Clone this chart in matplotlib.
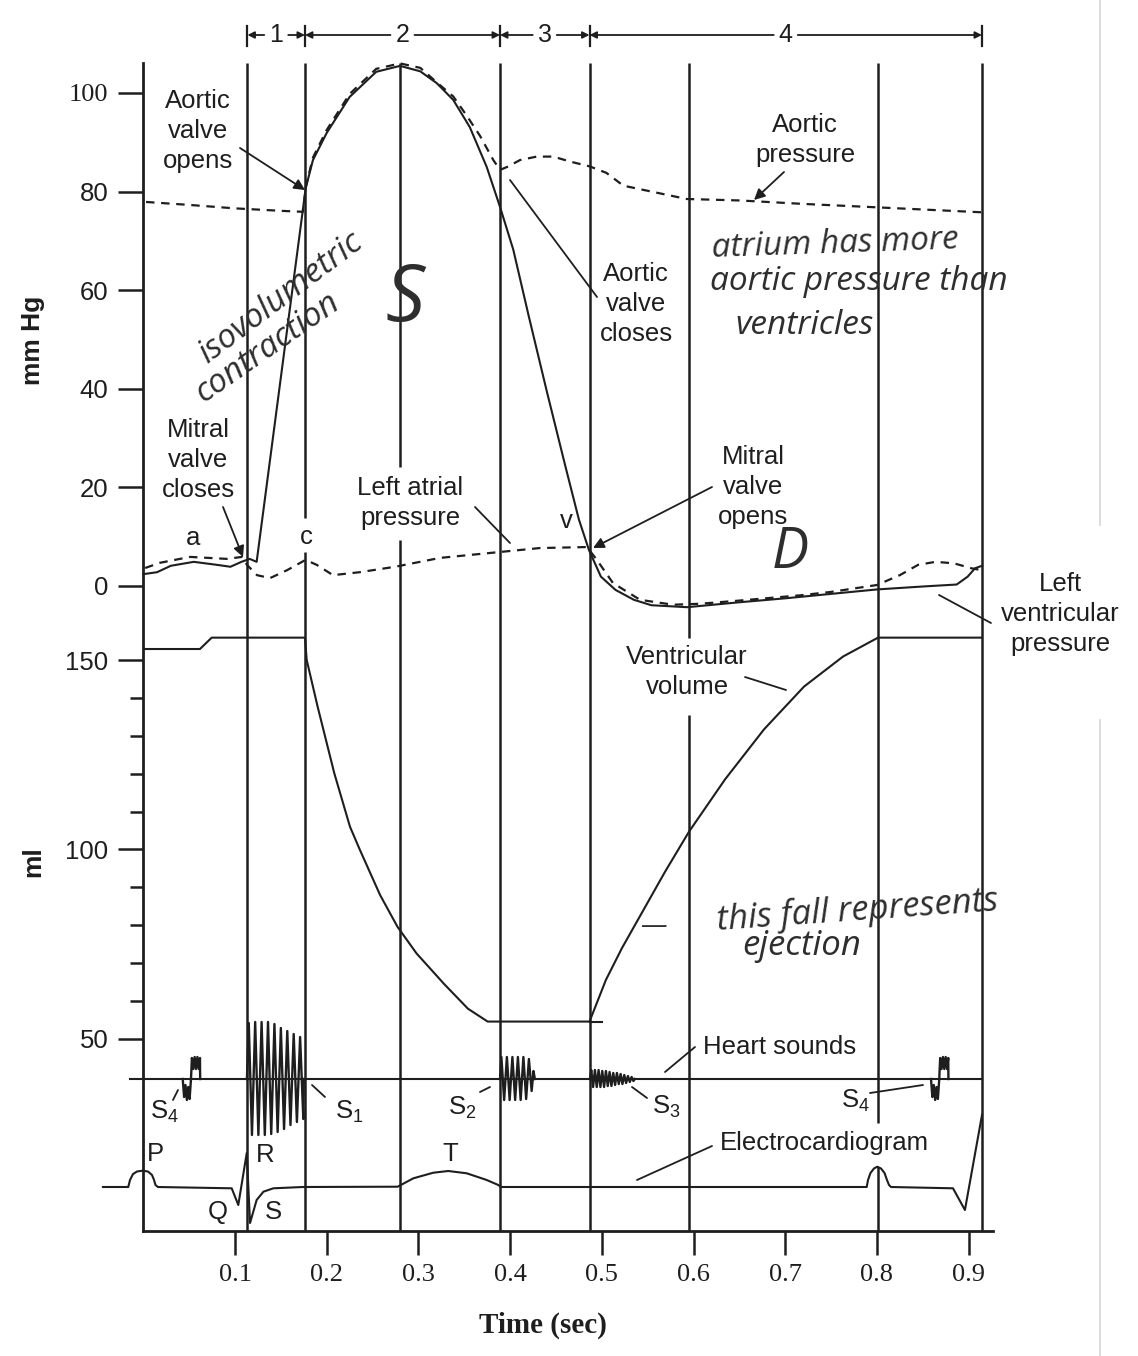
import numpy as np
import matplotlib
matplotlib.use('Agg')
import matplotlib.pyplot as plt
from matplotlib.patches import FancyArrowPatch
from matplotlib.lines import Line2D

W, H = 1138, 1356
INK = '#1e1e1e'
PEN = '#2e2e2e'
SANS = 'Liberation Sans'
SERIF = 'Liberation Serif'
plt.rcParams['font.family'] = [SANS, 'DejaVu Sans']
plt.rcParams['mathtext.fontset'] = 'custom'
plt.rcParams['mathtext.rm'] = SANS

# ------------------------------------------------------------------ data
time_ticks = [0.1, 0.2, 0.3, 0.4, 0.5, 0.6, 0.7, 0.8, 0.9]
time_tick_labels = ['0.1', '0.2', '0.3', '0.4', '0.5', '0.6', '0.7', '0.8', '0.9']
pressure_ticks = [0, 20, 40, 60, 80, 100]
pressure_tick_labels = ['0', '20', '40', '60', '80', '100']
volume_major = [50, 100, 150]
volume_major_labels = ['50', '100', '150']
volume_minor = [60, 70, 80, 90, 110, 120, 130, 140]

phase_times = [0.1136, 0.1763, 0.3890, 0.4866, 0.9146]
phase_labels = ['1', '2', '3', '4']
event_lines = [0.1136, 0.1763, 0.2794, 0.3890, 0.4866, 0.5951, 0.8012, 0.9146]

# left ventricular pressure (mm Hg)
lv_t = [0.000, 0.015, 0.030, 0.055, 0.080, 0.095, 0.107, 0.116, 0.1236,
        0.1771, 0.185, 0.200, 0.225, 0.254, 0.280, 0.302, 0.320, 0.338,
        0.356, 0.3745, 0.389, 0.4035, 0.420, 0.440, 0.460, 0.475, 0.486,
        0.499, 0.515, 0.535, 0.554, 0.593, 0.650, 0.700, 0.750, 0.800,
        0.850, 0.887, 0.899, 0.907, 0.9146]
lv_p = [2.4, 2.8, 4.1, 4.9, 4.3, 3.9, 4.9, 5.5, 4.9,
        80.7, 86.4, 91.9, 99.2, 104.3, 105.5, 104.4, 102.0, 98.6,
        93.1, 85.0, 76.9, 68.2, 55.0, 39.5, 24.5, 13.5, 7.3,
        1.9, -0.8, -2.8, -3.9, -4.3, -3.3, -2.5, -1.6, -0.7,
        -0.1, 0.3, 1.9, 3.6, 4.1]

# aortic pressure (mm Hg)
ao_t = [0.003, 0.050, 0.100, 0.150, 0.174, 0.1775, 0.185, 0.200, 0.225,
        0.254, 0.280, 0.302, 0.3235, 0.338, 0.3527, 0.3672, 0.3817, 0.389,
        0.398, 0.4108, 0.429, 0.447, 0.4653, 0.487, 0.505, 0.5235, 0.5926,
        0.6507, 0.720, 0.801, 0.9146]
ao_p = [77.9, 77.3, 76.6, 76.1, 75.9, 81.2, 86.9, 92.5, 99.8,
        104.9, 106.0, 105.1, 101.6, 99.3, 95.4, 91.3, 86.4, 84.4,
        85.1, 86.4, 87.1, 87.1, 86.1, 85.1, 83.8, 81.2, 78.5,
        78.2, 77.5, 76.8, 75.8]

# left atrial pressure (mm Hg)
la_t = [0.002, 0.018, 0.051, 0.0914, 0.1076, 0.113, 0.124, 0.1382, 0.1567,
        0.177, 0.189, 0.2069, 0.236, 0.2745, 0.3236, 0.389, 0.4325, 0.4839,
        0.4946, 0.5122, 0.5417, 0.5777, 0.607, 0.6473, 0.716, 0.750, 0.800,
        0.825, 0.845, 0.864, 0.884, 0.903, 0.9146]
la_p = [3.65, 4.7, 5.9, 5.5, 5.9, 4.3, 2.2, 1.6, 3.2,
        5.3, 4.3, 2.2, 2.8, 3.9, 5.7, 6.9, 7.7, 7.9,
        5.3, 0.6, -2.8, -3.8, -3.6, -3.0, -1.9, -1.2, 0.2,
        2.2, 4.3, 4.9, 4.6, 3.6, 3.2]

# ventricular volume (ml)
vol_t = [0.000, 0.0618, 0.0746, 0.1763, 0.1782, 0.1901, 0.2083, 0.2254,
         0.2362, 0.2582, 0.2772, 0.2979, 0.3281, 0.354, 0.3755, 0.4866,
         0.5045, 0.5220, 0.5395, 0.5689, 0.5951, 0.6344, 0.6769, 0.7206,
         0.7630, 0.8012, 0.9146]
vol_v = [152.9, 152.9, 155.9, 155.9, 150.0, 137.7, 120.1, 106.0,
         99.9, 88.0, 79.6, 72.6, 64.5, 58.0, 54.6, 54.6,
         65.6, 74.0, 81.5, 94.1, 104.7, 118.5, 131.7, 143.0,
         150.9, 155.9, 155.9]
vol_tail_t = [0.4866, 0.5003]
vol_tail_v = [54.6, 54.6]

# heart sounds (relative deflection)
sound_base_t = [-0.0145, 0.9146]
s4a_t = [0.0430, 0.0445, 0.0460, 0.0475, 0.0490, 0.0505, 0.0520, 0.0530,
         0.0545, 0.0560, 0.0575, 0.0590, 0.0605, 0.0618, 0.0620]
s4a_v = [0, -18, -6, -21, -8, -20, 0, 21, 10, 22, 10, 22, 10, 21, 0]
s1_t = [0.1130, 0.1150, 0.1185, 0.1220, 0.1255, 0.1290, 0.1325, 0.1360,
        0.1395, 0.1430, 0.1465, 0.1500, 0.1535, 0.1570, 0.1605, 0.1640,
        0.1675, 0.1710, 0.1745, 0.1750]
s1_v = [0, 56, -56, 57, -56, 57, -56, 57, -55, 55, -53, 51, -50, 48, -46,
        45, -43, 42, -40, 0]
s2_t = [0.3890, 0.3905, 0.3935, 0.3965, 0.3995, 0.4025, 0.4055, 0.4085,
        0.4115, 0.4145, 0.4175, 0.4205, 0.4235, 0.4255, 0.4270]
s2_v = [0, 22, -21, 22, -21, 22, -21, 22, -21, 22, -20, 20, -12, 8, 0]
s3_t = [0.4871, 0.4885, 0.4905, 0.4925, 0.4945, 0.4965, 0.4985, 0.5005,
        0.5025, 0.5045, 0.5065, 0.5085, 0.5105, 0.5125, 0.5145, 0.5165,
        0.5185, 0.5205, 0.5225, 0.5245, 0.5265, 0.5285, 0.5305, 0.5325,
        0.5345, 0.5360]
s3_v = [0, 9, -8, 9, -8, 9, -8, 8, -8, 8, -7, 7, -7, 6, -6, 6, -5, 5, -5,
        4, -4, 3, -3, 2, -2, 0]
s4b_t = [0.8590, 0.8605, 0.8620, 0.8635, 0.8650, 0.8665, 0.8680, 0.8690,
         0.8705, 0.8720, 0.8735, 0.8750, 0.8765, 0.8778, 0.8780]
s4b_v = [0, -18, -6, -21, -8, -20, 0, 21, 10, 22, 10, 22, 10, 21, 0]

# electrocardiogram (relative deflection)
ecg_t = [-0.0440, -0.0164, -0.0145, -0.0112, -0.0069, -0.0007, 0.0051,
         0.0095, 0.0117, 0.0133, 0.0160, 0.0964, 0.1036, 0.1128, 0.1164,
         0.1236, 0.1310, 0.1418, 0.1740, 0.2774, 0.2945, 0.3163, 0.3326,
         0.3527, 0.3745, 0.3871, 0.3900, 0.7889, 0.7903, 0.7930, 0.7968,
         0.8004, 0.8045, 0.8083, 0.8110, 0.8132, 0.8154, 0.8830, 0.8960,
         0.9146]
ecg_v = [0, 0, 7, 13, 15.5, 16.3, 15.5, 12, 7, 2, 0, -1.3, -18, 34, -36,
         -13, -4.7, -1.3, 0, 0.3, 8.7, 14.3, 16, 13.7, 7, 2, 0, 0, 7, 14,
         18.5, 20.3, 18.5, 14, 7, 2, 0, -1.3, -23, 72]

# ------------------------------------------------------------------ layout
X0, X1 = 143.3, 993.0
PX_PER_SEC = 917.0
TMAX = (X1 - X0) / PX_PER_SEC

fig = plt.figure(figsize=(W / 100, H / 100), dpi=100)
fig.patch.set_facecolor('white')


def fx(x):
    return x / W


def fy(y):
    return 1 - y / H


def axes_px(y0, y1):
    ax = fig.add_axes([X0 / W, 1 - y1 / H, (X1 - X0) / W, (y1 - y0) / H])
    ax.set_xlim(0, TMAX)
    ax.patch.set_visible(False)
    for s in ax.spines.values():
        s.set_visible(False)
    ax.tick_params(bottom=False, labelbottom=False, left=False, labelleft=False)
    return ax


# frame (left axis, bottom axis, event lines) in pixel rows
frame = axes_px(63, 1231)
frame.set_ylim(1231, 63)
for side in ('left', 'bottom'):
    frame.spines[side].set_visible(True)
    frame.spines[side].set_linewidth(2.0)
    frame.spines[side].set_color(INK)
frame.set_xticks(time_ticks)
frame.set_xticklabels(time_tick_labels, fontfamily=SERIF, fontsize=19)
frame.tick_params(axis='x', bottom=True, labelbottom=True, direction='out',
                  length=17, width=1.8, pad=7, colors=INK)

gaps = {0.1763: [(518, 552)], 0.2794: [(467, 540)],
        0.5951: [(638, 715)], 0.8012: [(1123, 1167)]}
for t in event_lines:
    start = 63
    for g0, g1 in gaps.get(t, []):
        frame.plot([t, t], [start, g0], color=INK, lw=1.8, solid_capstyle='butt')
        start = g1
    frame.plot([t, t], [start, 1231], color=INK, lw=1.8, solid_capstyle='butt')

# phase brackets
for i, lab in enumerate(phase_labels):
    a, b = phase_times[i], phase_times[i + 1]
    mid = (a + b) / 2
    gap = 12 / PX_PER_SEC
    for tip, tail in ((a, mid - gap), (b, mid + gap)):
        frame.annotate('', xy=(tip, 35), xytext=(tail, 35),
                       arrowprops=dict(arrowstyle='-|>', lw=1.3, color=INK,
                                       shrinkA=0, shrinkB=0, mutation_scale=10),
                       annotation_clip=False)
    frame.text(mid, 35, lab, ha='center', va='center', fontsize=18,
               color=INK, clip_on=False)
for t in phase_times:
    frame.plot([t, t], [26, 46], color=INK, lw=1.6, clip_on=False)

# pressure panel
P_HI = (586 - 63) / 4.93
P_LO = (586 - 623) / 4.93
pax = axes_px(63, 623)
pax.set_ylim(P_LO, P_HI)
pax.set_yticks(pressure_ticks)
pax.set_yticklabels(pressure_tick_labels)
pax.tick_params(axis='y', left=True, labelleft=True, direction='out',
                length=18, width=1.8, pad=7, labelsize=18.5, colors=INK)
for lab in pax.get_yticklabels():
    if lab.get_text() == '100':
        lab.set_fontfamily(SERIF)
        lab.set_fontsize(19)
dash = (0, (3.8, 3.0))
pax.plot(lv_t, lv_p, color=INK, lw=1.5, clip_on=False)
pax.plot(ao_t, ao_p, color=INK, lw=1.6, ls=dash, clip_on=False)
pax.plot(la_t, la_p, color=INK, lw=1.6, ls=dash, clip_on=False)

# volume panel
V_HI = 150 + 37 / 3.79
V_LO = 150 - 400 / 3.79
vax = axes_px(623, 1060)
vax.set_ylim(V_LO, V_HI)
vax.set_yticks(volume_major)
vax.set_yticklabels(volume_major_labels)
vax.set_yticks(volume_minor, minor=True)
vax.tick_params(axis='y', which='major', left=True, labelleft=True,
                direction='out', length=18, width=1.8, pad=7, labelsize=18.5,
                colors=INK)
vax.tick_params(axis='y', which='minor', left=True, direction='out',
                length=9.5, width=1.8, colors=INK)
vax.plot(vol_t, vol_v, color=INK, lw=1.5)
vax.plot(vol_tail_t, vol_tail_v, color=INK, lw=1.5)

# heart sounds
sax = axes_px(1010, 1150)
sax.set_ylim(-71, 69)
sax.plot(sound_base_t, [0, 0], color=INK, lw=1.5, clip_on=False)
for st, sv in ((s4a_t, s4a_v), (s1_t, s1_v), (s2_t, s2_v), (s3_t, s3_v),
               (s4b_t, s4b_v)):
    sax.plot(st, sv, color=INK, lw=1.7, clip_on=False)

# ECG
eax = axes_px(1100, 1231)
eax.set_ylim(-44, 87)
eax.plot(ecg_t, ecg_v, color=INK, lw=1.5, clip_on=False)

# ------------------------------------------------------------------ text
fig.text(fx(543), fy(1325), 'Time (sec)', fontfamily=SERIF, fontweight='bold',
         fontsize=21, ha='center', va='center', color=INK)
fig.text(fx(33), fy(340), 'mm Hg', rotation=90, fontweight='bold',
         fontsize=19, ha='center', va='center', color=INK)
fig.text(fx(33), fy(862), 'ml', rotation=90, fontweight='bold',
         fontsize=19, ha='center', va='center', color=INK)

labels = [
    ('Aortic\nvalve\nopens', 198, 131),
    ('Aortic\npressure', 805, 140),
    ('Aortic\nvalve\ncloses', 636, 304),
    ('Mitral\nvalve\ncloses', 198, 460),
    ('Left atrial\npressure', 410, 503),
    ('Mitral\nvalve\nopens', 753, 487),
    ('Left\nventricular\npressure', 1060, 614),
    ('Ventricular\nvolume', 687, 672),
    ('a', 193, 538), ('c', 306, 537), ('v', 566, 521),
    ('P', 155, 1154), ('R', 265, 1155), ('Q', 218, 1212), ('S', 273, 1212),
    ('T', 450, 1154),
    ('S$_\\mathrm{4}$', 164, 1112), ('S$_\\mathrm{1}$', 349, 1112),
    ('S$_\\mathrm{2}$', 462, 1108), ('S$_\\mathrm{3}$', 666, 1107),
    ('S$_\\mathrm{4}$', 855, 1101),
]
for s, x, y in labels:
    fig.text(fx(x), fy(y), s, ha='center', va='center', fontsize=18.5,
             linespacing=1.33, color=INK)
fig.text(fx(703), fy(1047), 'Heart sounds', ha='left', va='center',
         fontsize=18.5, color=INK)
fig.text(fx(720), fy(1143), 'Electrocardiogram', ha='left', va='center',
         fontsize=18.5, color=INK)


def link(p0, p1, head):
    fig.add_artist(FancyArrowPatch(
        (fx(p0[0]), fy(p0[1])), (fx(p1[0]), fy(p1[1])),
        transform=fig.transFigure, arrowstyle='-|>' if head else '-',
        mutation_scale=16, lw=1.3, color=INK, shrinkA=0, shrinkB=0))


arrows = [((240, 148), (305, 190)), ((784, 172), (754, 200)),
          ((223, 507), (243, 557)), ((712, 487), (593, 548))]
leaders = [((510, 180), (597, 297)), ((475, 507), (510, 543)),
           ((939, 595), (991, 623)), ((745, 677), (786, 690)),
           ((665, 1072), (695, 1047)), ((637, 1180), (712, 1146)),
           ((173, 1100), (178, 1090)), ((312, 1085), (325, 1097)),
           ((480, 1092), (490, 1087)), ((632, 1087), (647, 1098)),
           ((870, 1093), (923, 1085))]
for a, b in arrows:
    link(a, b, True)
for a, b in leaders:
    link(a, b, False)

# handwritten notes
hand = [
    ('isovolumetric', 280, 298, 37, 24),
    ('contraction', 268, 348, 35, 24),
    ('S', 405, 300, 0, 56),
    ('atrium has more', 835, 244, 2, 24),
    ('aortic pressure than', 859, 282, 0, 24),
    ('ventricles', 805, 325, 0, 24),
    ('D', 790, 553, 0, 40),
    ('—', 654, 926, 0, 20),
    ('this fall represents', 857, 911, 4, 25),
    ('ejection', 802, 946, 0, 25),
]
for s, x, y, rot, size in hand:
    fig.text(fx(x), fy(y), s, ha='center', va='center', rotation=rot,
             rotation_mode='anchor', fontsize=size, fontstyle='italic',
             fontweight='normal', family=['Open Sans', 'DejaVu Sans'],
             color=PEN)

# faint scan edge
for y0, y1 in ((0, 525), (720, 1356)):
    fig.add_artist(Line2D([fx(1100), fx(1100)], [fy(y0), fy(y1)],
                          transform=fig.transFigure, color='#d6d6d6', lw=1.2))

fig.savefig('out.png', dpi=100, facecolor='white')
